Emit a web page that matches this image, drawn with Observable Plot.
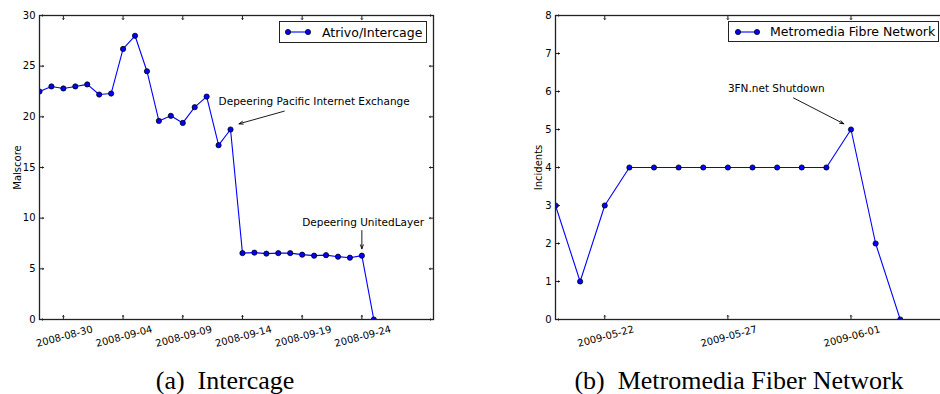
<!DOCTYPE html>
<html><head><meta charset="utf-8">
<script src="https://cdn.jsdelivr.net/npm/d3@7"></script>
<script src="https://cdn.jsdelivr.net/npm/@observablehq/plot@0.6"></script>
<style>
html,body{margin:0;padding:0;background:#fff;overflow:hidden;}
#wrap{position:relative;width:940px;height:394px;overflow:hidden;background:#fff;}
.panel{position:absolute;top:0;width:440px;height:360px;}
.legend{position:absolute;box-sizing:border-box;border:1.3px solid #222;background:#fff;font-family:"DejaVu Sans";font-size:12.5px;color:#000;display:flex;align-items:center;white-space:nowrap;}
.legend svg{display:block;flex:none;}
.caption{position:absolute;font-family:"Liberation Serif","Times New Roman",serif;font-size:26px;line-height:22px;color:#000;white-space:pre;transform:translateX(-50%);}
</style></head><body>
<div id="wrap">
  <div class="panel" id="pa" style="left:0px"></div>
  <div class="panel" id="pb" style="left:520px"></div>
  <div class="legend" id="la" style="left:279px;top:21px;width:148px;height:22px;padding-left:4px"></div>
  <div class="legend" id="lb" style="left:728px;top:21px;width:211px;height:21px;padding-left:5px"></div>
  <div class="caption" id="ca" style="left:225px;top:370px"></div>
  <div class="caption" id="cb" style="left:739px;top:370px"></div>
</div>
<script>
// ---------- Panel (a): Atrivo/Intercage ----------
const datesA = ["2008-08-28","2008-08-29","2008-08-30","2008-08-31","2008-09-01","2008-09-02","2008-09-03",
  "2008-09-04","2008-09-05","2008-09-06","2008-09-07","2008-09-08","2008-09-09","2008-09-10","2008-09-11",
  "2008-09-12","2008-09-13","2008-09-14","2008-09-15","2008-09-16","2008-09-17","2008-09-18","2008-09-19",
  "2008-09-20","2008-09-21","2008-09-22","2008-09-23","2008-09-24","2008-09-25"];
const malscore = [22.5,23.0,22.8,23.0,23.2,22.2,22.3,26.7,28.0,24.5,19.6,20.1,19.4,20.95,22.0,17.2,18.75,
  6.55,6.6,6.5,6.55,6.55,6.4,6.3,6.35,6.2,6.1,6.3,0];
const xDomainA = ["2008-08-28","2008-09-30"];
const xTicksA = ["2008-08-30","2008-09-04","2008-09-09","2008-09-14","2008-09-19","2008-09-24"];
const yTicksA = [0,5,10,15,20,25,30];
const notesA = [
  {x:"2008-09-12T00:00Z", y:21.2, t:"Depeering Pacific Internet Exchange"},
  {x:"2008-09-19T00:00Z", y:9.18, t:"Depeering UnitedLayer"}
];
const arrowsA = [
  {x1:"2008-09-17T12:00Z", y1:20.56, x2:"2008-09-13T17:00Z", y2:19.31},
  {x1:"2008-09-24T00:00Z", y1:8.78, x2:"2008-09-24T00:00Z", y2:6.98}
];
const legendA = "Atrivo/Intercage";
const captionA = "(a)  Intercage";

// ---------- Panel (b): Metromedia ----------
const datesB = ["2009-05-20","2009-05-21","2009-05-22","2009-05-23","2009-05-24","2009-05-25","2009-05-26",
  "2009-05-27","2009-05-28","2009-05-29","2009-05-30","2009-05-31","2009-06-01","2009-06-02","2009-06-03"];
const incidents = [3,1,3,4,4,4,4,4,4,4,4,4,5,2,0];
const xDomainB = ["2009-05-20","2009-06-05"];
const xTicksB = ["2009-05-22","2009-05-27","2009-06-01"];
const yTicksB = [0,1,2,3,4,5,6,7,8];
const notesB = [
  {x:"2009-05-27T00:00Z", y:6.0, t:"3FN.net Shutdown"}
];
const arrowsB = [
  {x1:"2009-05-29T16:00Z", y1:5.83, x2:"2009-05-31T17:00Z", y2:5.15}
];
const legendB = "Metromedia Fibre Network";
const captionB = "(b)  Metromedia Fiber Network";

const fmt = d3.utcFormat("%Y-%m-%d");
const ink = "#222";

function panel({dates, values, domain, yMax, xTicks, yTicks, ylabel, ylabelDx, marginLeft, marginRight, notes, arrows}) {
  const data = dates.map((d, i) => ({date: new Date(d), v: values[i]}));
  const xt = xTicks.map(d => new Date(d));
  const nt = notes.map(n => ({...n, x: new Date(n.x)}));
  const ar = arrows.map(a => ({...a, x1: new Date(a.x1), x2: new Date(a.x2)}));
  return Plot.plot({
    width: 440, height: 360,
    marginLeft, marginRight, marginTop: 15, marginBottom: 41,
    style: {fontFamily: "DejaVu Sans", fontSize: "10px", background: "transparent", maxWidth: "none", color: "#000"},
    x: {type: "utc", domain: domain.map(d => new Date(d)), axis: null},
    y: {domain: [0, yMax], axis: null},
    marks: [
      Plot.line(data, {x: "date", y: "v", stroke: "#0000ff", strokeWidth: 1.1, clip: true}),
      Plot.dot(data, {x: "date", y: "v", r: 2.6, fill: "#0000ff", stroke: "#000", strokeWidth: 0.8, clip: true}),
      Plot.frame({stroke: ink, strokeWidth: 1.3}),
      Plot.vector(xt, {x: d => d, frameAnchor: "bottom", length: 4, rotate: 0, anchor: "start", stroke: ink, strokeWidth: 1}),
      Plot.vector(xt, {x: d => d, frameAnchor: "top", length: 4, rotate: 180, anchor: "start", stroke: ink, strokeWidth: 1}),
      Plot.vector(yTicks, {y: d => d, frameAnchor: "left", length: 4, rotate: 90, anchor: "start", stroke: ink, strokeWidth: 1}),
      Plot.vector(yTicks, {y: d => d, frameAnchor: "right", length: 4, rotate: -90, anchor: "start", stroke: ink, strokeWidth: 1}),
      Plot.text(xt, {x: d => d, text: d => fmt(d), frameAnchor: "bottom", dy: 17, dx: 1, rotate: -15,
        textAnchor: "middle", lineAnchor: "middle", fontSize: 10, fill: "#000"}),
      Plot.text(yTicks, {y: d => d, text: d => String(d), frameAnchor: "left", dx: -4,
        textAnchor: "end", lineAnchor: "middle", fontSize: 10, fill: "#000"}),
      Plot.text([ylabel], {text: d => d, frameAnchor: "left", dx: ylabelDx, rotate: -90,
        textAnchor: "middle", lineAnchor: "middle", fontSize: 10, fill: "#000"}),
      Plot.text(nt, {x: "x", y: "y", text: "t", textAnchor: "start", lineAnchor: "bottom", fontSize: 10.5, fill: "#000"}),
      Plot.arrow(ar, {x1: "x1", y1: "y1", x2: "x2", y2: "y2", stroke: "#000", strokeWidth: 0.9, headLength: 7, headAngle: 40})
    ]
  });
}

document.getElementById("pa").appendChild(panel({
  dates: datesA, values: malscore, domain: xDomainA, yMax: 30, xTicks: xTicksA, yTicks: yTicksA,
  ylabel: "Malscore", ylabelDx: -22, marginLeft: 39, marginRight: 7, notes: notesA, arrows: arrowsA
}));
document.getElementById("pb").appendChild(panel({
  dates: datesB, values: incidents, domain: xDomainB, yMax: 8, xTicks: xTicksB, yTicks: yTicksB,
  ylabel: "Incidents", ylabelDx: -17, marginLeft: 35, marginRight: 11, notes: notesB, arrows: arrowsB
}));

function legendSample(w) {
  return `<svg width="${w + 8}" height="10"><line x1="4" y1="5" x2="${w + 4}" y2="5" stroke="#0000ff" stroke-width="1.1"/>` +
    `<circle cx="4" cy="5" r="2.6" fill="#0000ff" stroke="#000" stroke-width="0.8"/>` +
    `<circle cx="${w + 4}" cy="5" r="2.6" fill="#0000ff" stroke="#000" stroke-width="0.8"/></svg>`;
}
document.getElementById("la").innerHTML = legendSample(20) + `<span style="margin-left:10px">${legendA}</span>`;
document.getElementById("lb").innerHTML = legendSample(19) + `<span style="margin-left:9px">${legendB}</span>`;
document.getElementById("ca").textContent = captionA;
document.getElementById("cb").textContent = captionB;
</script>
</body></html>
